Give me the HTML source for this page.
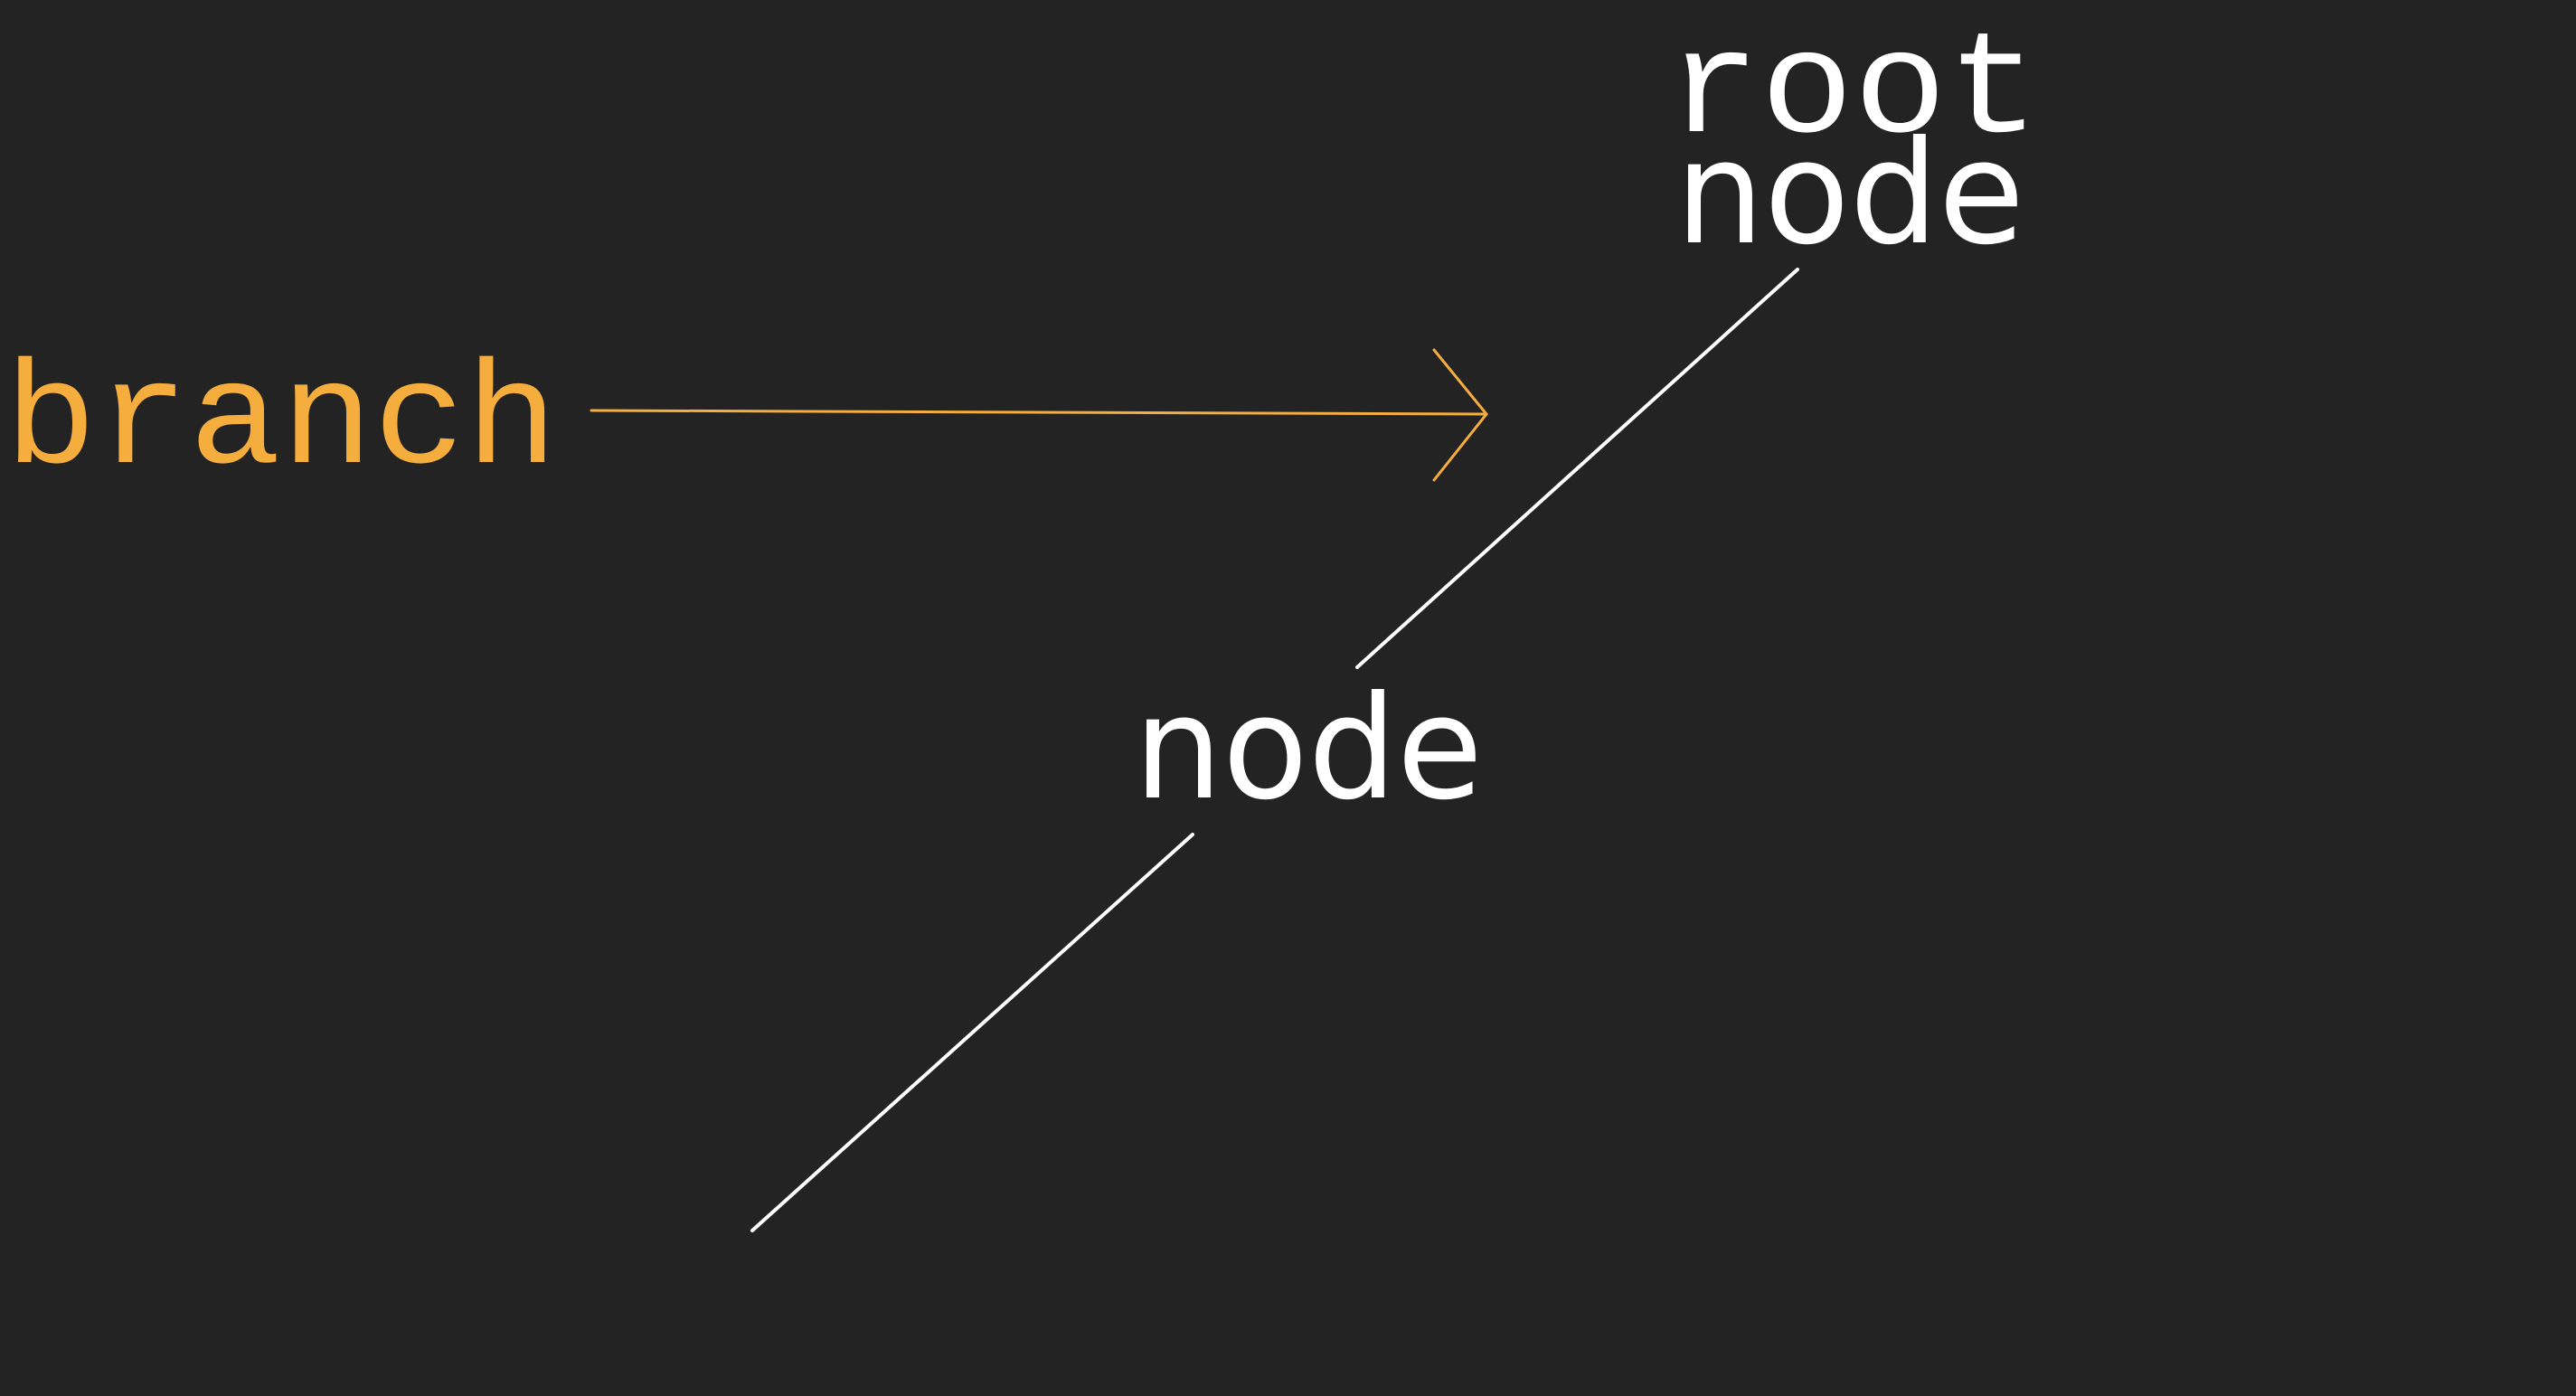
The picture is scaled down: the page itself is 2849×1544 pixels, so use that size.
<!DOCTYPE html>
<html><head><meta charset="utf-8"><style>
html,body{margin:0;padding:0;background:#232323;}
svg{display:block;}
</style></head><body>
<svg width="2849" height="1544" viewBox="0 0 2849 1544" xmlns="http://www.w3.org/2000/svg">
<rect width="2849" height="1544" fill="#232323"/>
<g font-family="'Liberation Mono', monospace" font-size="162" fill="#ffffff">
<text x="2050" y="145" text-anchor="middle" textLength="412" lengthAdjust="spacingAndGlyphs">root</text>
</g>
<g font-family="'DejaVu Sans', 'Liberation Sans', sans-serif" font-size="158" fill="#ffffff">
<text x="2046" y="268" text-anchor="middle" textLength="386" lengthAdjust="spacingAndGlyphs">node</text>
<text x="1447" y="882" text-anchor="middle" textLength="386" lengthAdjust="spacingAndGlyphs">node</text>
</g>
<text x="5" y="511" font-family="'Liberation Mono', monospace" font-size="162" fill="#f5ae3d" textLength="612" lengthAdjust="spacingAndGlyphs">branch</text>
<g stroke="#ffffff" stroke-width="4" stroke-linecap="round">
<line x1="1988" y1="298" x2="1501" y2="738"/>
<line x1="1319" y1="923" x2="832" y2="1361"/>
</g>
<g stroke="#f5ae3d" stroke-width="3" stroke-linecap="round" fill="none">
<line x1="654" y1="454" x2="1644" y2="458"/>
<polyline points="1586,387 1644,458 1586,531"/>
</g>
</svg>
</body></html>
